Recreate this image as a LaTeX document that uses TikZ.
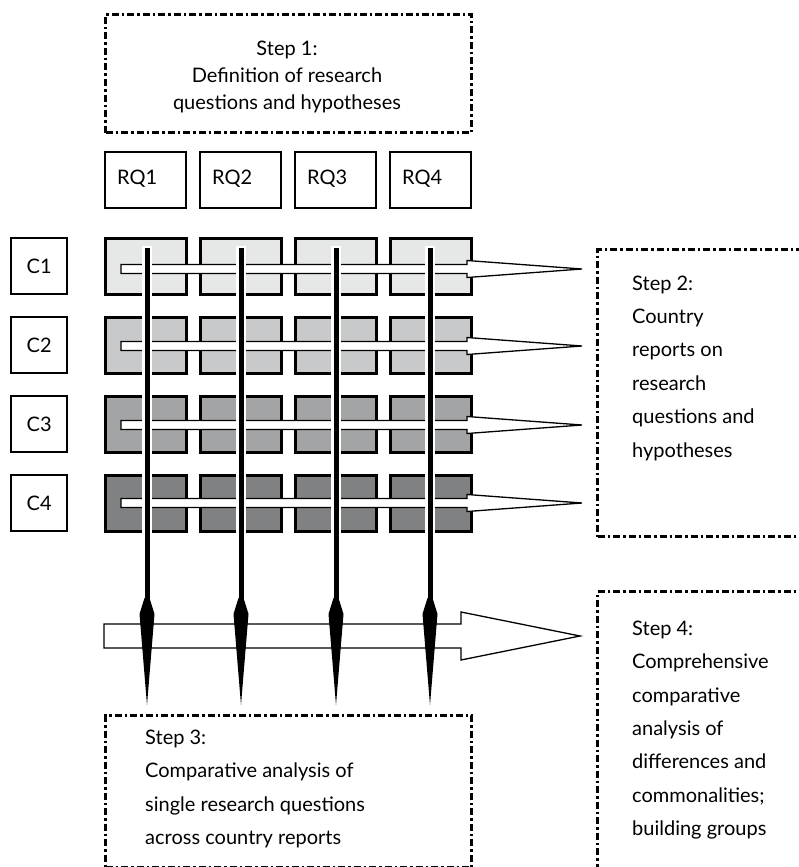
\documentclass[tikz,border=0pt]{standalone}
\usepackage{fontspec}
\setmainfont{Lato}
\usetikzlibrary{calc}
\definecolor{rowA}{HTML}{E6E7E7}
\definecolor{rowB}{HTML}{C8C9CA}
\definecolor{rowC}{HTML}{A3A4A6}
\definecolor{rowD}{HTML}{808183}
\begin{document}
\begin{tikzpicture}[x=1pt,y=-1pt,
  dd/.style={line width=3pt, dash pattern=on 7pt off 3pt on 2.5pt off 3pt},
  stepbox/.style={draw, dd, anchor=north west, inner sep=0pt},
  txt/.style={font=\fontsize{20}{33.4}\selectfont, align=left, inner sep=0pt, text=black},
  lblbox/.style={draw, line width=2.4pt, anchor=north west, inner sep=0pt},
  cell/.style={draw, line width=2.8pt, anchor=north west, inner sep=0pt, minimum width=81pt, minimum height=56pt},
  lbl/.style={font=\fontsize{20}{22}\selectfont, text=black, inner sep=0pt},
  warrow/.style={draw=black, fill=white, line width=1.3pt, line join=miter},
  halo/.style={draw=white, line width=10pt},
  shaft/.style={draw=black, line width=5pt},
  head/.style={fill=black}
]
\useasboundingbox (0,0) rectangle (798,867);

% Step boxes
\node[stepbox, minimum width=366pt, minimum height=118pt] (s1) at (104,13) {};
\node[stepbox, minimum width=215pt, minimum height=287pt] (s2) at (596,248) {};
\node[stepbox, minimum width=366pt, minimum height=152pt] (s3) at (104,714) {};
\node[stepbox, minimum width=215pt, minimum height=290pt] (s4) at (596,590) {};

\node[txt, align=center, font=\fontsize{20}{27}\selectfont] (t1) at (287,77)
  {Step 1:\\Definition of research\\questions and hypotheses};
\node[txt, anchor=west] (t2) at (632,368)
  {Step 2:\\Country\\reports on\\research\\questions and\\hypotheses};
\node[txt, anchor=west] (t3) at (145,789)
  {Step 3:\\Comparative analysis of\\single research questions\\across country reports};
\node[txt, anchor=west] (t4) at (632,730)
  {Step 4:\\Comprehensive\\comparative\\analysis of\\differences and\\commonalities;\\building groups};

% RQ boxes
\foreach \i/\x in {1/104,2/199,3/294,4/389}{
  \node[lblbox, minimum width=81pt, minimum height=56pt] (rq\i) at (\x,151) {};
  \node[lbl, anchor=west] (rqt\i) at (\x+13,179) {RQ\i};
}
% C boxes
\foreach \j/\y in {1/237,2/316,3/395,4/474}{
  \node[lblbox, minimum width=56pt, minimum height=56pt] (c\j) at (10,\y) {};
  \node[lbl] (ct\j) at (c\j.center) {C\j};
}
% grid cells
\foreach \j/\y/\col in {1/237/rowA,2/316/rowB,3/395/rowC,4/474/rowD}{
  \foreach \i/\x in {1/104,2/199,3/294,4/389}{
    \node[cell, fill=\col] (g\j\i) at (\x,\y) {};
  }
}

% row arrows to step 2
\foreach \j/\y in {1/269,2/346,3/425,4/503}{
  \coordinate (ra\j) at (121,\y);
  \coordinate (rb\j) at (467,\y);
  \coordinate (rt\j) at (582,\y);
  \path[warrow] ($(ra\j)+(0,-4.5)$) -- ($(rb\j)+(0,-4.5)$) -- ($(rb\j)+(0,-8.5)$) -- (rt\j)
     -- ($(rb\j)+(0,8.5)$) -- ($(rb\j)+(0,4.5)$) -- ($(ra\j)+(0,4.5)$) -- cycle;
}

% big arrow to step 4
\coordinate (ba) at (104,636);
\coordinate (bb) at (461,636);
\coordinate (bt) at (580,636);
\path[warrow] ($(ba)+(0,-12)$) -- ($(bb)+(0,-12)$) -- ($(bb)+(0,-24)$) -- (bt)
   -- ($(bb)+(0,24)$) -- ($(bb)+(0,12)$) -- ($(ba)+(0,12)$) -- cycle;

% vertical arrows to step 3
\foreach \i/\x in {1/147,2/241,3/336,4/430}{
  \coordinate (va\i) at (\x,248);
  \coordinate (vb\i) at (\x,600);
  \coordinate (vt\i) at (\x,705);
  \draw[halo] ($(va\i)+(0,-2)$) -- (\x,545);
  \draw[shaft] (va\i) -- (vb\i);
  \path[head] ($(vb\i)+(-2.5,-2)$) -- ($(vb\i)+(-7.5,14)$) -- (vt\i) -- ($(vb\i)+(7.5,14)$) -- ($(vb\i)+(2.5,-2)$) -- cycle;
}
\end{tikzpicture}
\end{document}
